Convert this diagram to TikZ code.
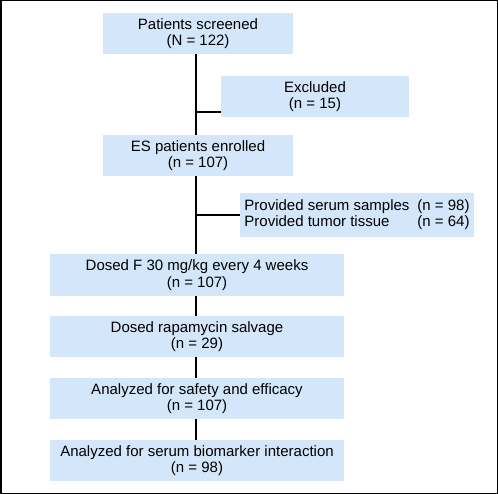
\documentclass[tikz,border=0pt]{standalone}
\usepackage{fontspec}
\setmainfont{Liberation Sans}
\begin{document}
\begin{tikzpicture}[x=1pt,y=-1pt,
  box/.style={fill=boxblue, draw=none, align=center, inner sep=0pt,
    font=\fontsize{15}{16.5}\selectfont},
  conn/.style={line width=2pt, black}]
\definecolor{boxblue}{HTML}{D3E6FA}
\useasboundingbox (0,0) rectangle (498,494);
\draw[line width=1.5pt] (0.75,0.75) rectangle (497.25,493.25);
\node[box, minimum width=190pt, minimum height=41pt] (scr) at (198,33.5) {Patients screened\\(N = 122)};
\node[box, minimum width=188pt, minimum height=41pt] (exc) at (315,96.5) {Excluded\\(n = 15)};
\node[box, minimum width=190pt, minimum height=41pt] (enr) at (198,155.5) {ES patients enrolled\\(n = 107)};
\node[box, minimum width=234pt, minimum height=44pt] (prov) at (357,215) {\begin{tabular}{@{}l@{\hspace{8pt}}r@{}}Provided serum samples & (n = 98)\\Provided tumor tissue & (n = 64)\end{tabular}};
\node[box, minimum width=294pt, minimum height=42pt] (dose) at (197,275) {Dosed F 30 mg/kg every 4 weeks\\(n = 107)};
\node[box, minimum width=294pt, minimum height=41pt] (rapa) at (197,336.5) {Dosed rapamycin salvage\\(n = 29)};
\node[box, minimum width=294pt, minimum height=41pt] (safe) at (197,398.5) {Analyzed for safety and efficacy\\(n = 107)};
\node[box, minimum width=294pt, minimum height=41pt] (bio) at (197,460.5) {Analyzed for serum biomarker interaction\\(n = 98)};
\coordinate (l1) at (196,54);
\coordinate (l2) at (196,135);
\coordinate (l3) at (196,176);
\coordinate (l4) at (196,254);
\coordinate (b1) at (196,112);
\coordinate (b2) at (196,215);
\draw[conn] (l1) -- (l2);
\draw[conn] (l3) -- (l4);
\draw[conn] (b1) -- (b1 -| exc.west);
\draw[conn] (b2) -- (b2 -| prov.west);
\draw[conn] (dose.south -| l1) -- (rapa.north -| l1);
\draw[conn] (rapa.south -| l1) -- (safe.north -| l1);
\draw[conn] (safe.south -| l1) -- (bio.north -| l1);
\end{tikzpicture}
\end{document}
